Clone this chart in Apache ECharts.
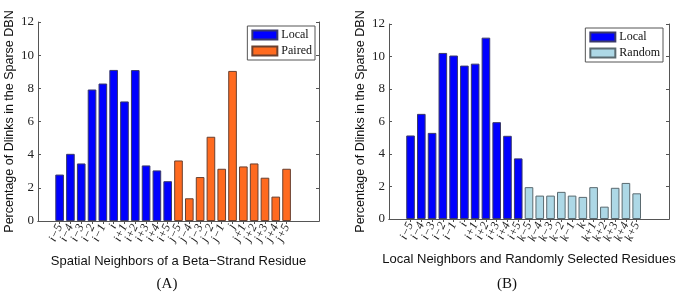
<!DOCTYPE html>
<html>
<head>
<meta charset="utf-8">
<script src="https://cdn.jsdelivr.net/npm/echarts@6/dist/echarts.min.js"></script>
<style>
  html, body { margin: 0; padding: 0; background: #fff; }
  #chart { width: 685px; height: 295px; }
</style>
</head>
<body>
<div id="chart"></div>
<script>
// (A) spatial neighbors
const catsA = ['i−5', 'i−4', 'i−3', 'i−2', 'i−1', 'i', 'i+1', 'i+2', 'i+3', 'i+4', 'i+5',
    'j−5', 'j−4', 'j−3', 'j−2', 'j−1', 'j', 'j+1', 'j+2', 'j+3', 'j+4', 'j+5']
const localA = [2.8, 4.05, 3.47, 7.93, 8.29, 9.11, 7.21, 9.1, 3.35, 3.05, 2.4]
const pairedA = [3.65, 1.37, 2.65, 5.08, 3.15, 9.05, 3.29, 3.47, 2.61, 1.47, 3.15]

// (B) local vs random
const catsB = ['i−5', 'i−4', 'i−3', 'i−2', 'i−1', 'i', 'i+1', 'i+2', 'i+3', 'i+4', 'i+5',
    'k−5', 'k−4', 'k−3', 'k−2', 'k−1', 'k', 'k+1', 'k+2', 'k+3', 'k+4', 'k+5']
const localB = [5.14, 6.47, 5.3, 10.22, 10.06, 9.44, 9.56, 11.16, 5.96, 5.12, 3.73]
const randomB = [1.96, 1.44, 1.44, 1.67, 1.44, 1.36, 1.96, 0.76, 1.92, 2.22, 1.58]

const yTicks = [0, 2, 4, 6, 8, 10, 12]

const axisGray = '#555'
const serif = '"Liberation Serif", "DejaVu Serif", serif'
const sans = '"Liberation Sans", Arial, sans-serif'

// MATLAB-like xlim [-1, 25]: two empty slots before, three after
const PAD_L = 2
const PAD_R = 3
const pad = (arr) => [...Array(PAD_L).fill(null), ...arr, ...Array(PAD_R).fill(null)]
const padCats = (arr) => [...Array(PAD_L).fill(''), ...arr, ...Array(PAD_R).fill('')]
const realTick = (index) => index >= PAD_L && index < PAD_L + catsA.length

const grids = [
    { left: 38, top: 22, width: 281, height: 199 },
    { left: 389, top: 24, width: 280, height: 195 },
]

function xAxes(gi, cats, name) {
    return [
        {
            type: 'category',
            gridIndex: gi,
            data: padCats(cats),
            boundaryGap: false,
            name: name,
            nameLocation: 'middle',
            nameGap: 34,
            nameTextStyle: { fontFamily: sans, fontSize: 13, color: '#111' },
            axisLine: { lineStyle: { color: axisGray } },
            axisTick: { show: true, inside: true, length: 3, interval: realTick, lineStyle: { color: axisGray } },
            axisLabel: {
                interval: 0,
                rotate: 65,
                margin: 4,
                fontFamily: serif,
                fontStyle: 'italic',
                fontSize: 12,
                color: '#222',
            },
            splitLine: { show: false },
        },
        {
            type: 'category',
            gridIndex: gi,
            position: 'top',
            data: padCats(cats),
            boundaryGap: false,
            axisLine: { lineStyle: { color: axisGray } },
            axisTick: { show: true, inside: true, length: 3, interval: realTick, lineStyle: { color: axisGray } },
            axisLabel: { show: false },
            splitLine: { show: false },
        },
    ]
}

function yAxes(gi) {
    const base = {
        type: 'value',
        gridIndex: gi,
        min: yTicks[0],
        max: yTicks[yTicks.length - 1],
        interval: 2,
        axisLine: { show: true, lineStyle: { color: axisGray } },
        axisTick: { show: true, inside: true, length: 3, lineStyle: { color: axisGray } },
        splitLine: { show: false },
    }
    return [
        {
            ...base,
            name: 'Percentage of Dlinks in the Sparse DBN',
            nameLocation: 'middle',
            nameGap: 22,
            nameTextStyle: { fontFamily: sans, fontSize: 12.5, color: '#111' },
            axisLabel: { fontFamily: serif, fontSize: 13, color: '#222', margin: 4 },
        },
        { ...base, position: 'right', axisLabel: { show: false } },
    ]
}

function barSeries(id, name, xi, yi, data, color, border) {
    return {
        id: id,
        name: name,
        type: 'bar',
        xAxisIndex: xi,
        yAxisIndex: yi,
        data: data,
        barWidth: '80%',
        barGap: '-100%',
        itemStyle: { color: color, borderColor: border, borderWidth: 1 },
        emphasis: { disabled: true },
    }
}

const legendBase = {
    orient: 'vertical',
    icon: 'rect',
    itemWidth: 25,
    itemHeight: 9,
    itemGap: 4,
    padding: [3, 3, 3, 4],
    borderColor: axisGray,
    borderWidth: 1,
    backgroundColor: '#fff',
    textStyle: { fontFamily: serif, fontSize: 12, color: '#111', padding: [0, 0, 0, -1] },
}

const option = {
    animation: false,
    grid: grids,
    xAxis: [
        ...xAxes(0, catsA, 'Spatial Neighbors of a Beta−Strand Residue'),
        ...xAxes(1, catsB, 'Local Neighbors and Randomly Selected Residues'),
    ],
    yAxis: [...yAxes(0), ...yAxes(1)],
    legend: [
        { ...legendBase, right: 370, top: 26, data: ['Local', 'Paired'] },
        { ...legendBase, right: 22, top: 28, data: ['Local', 'Random'] },
    ],
    series: [
        barSeries('localA', 'Local', 0, 0, pad([...localA, ...Array(pairedA.length).fill(null)]), '#0000ff', '#3a3a6a'),
        barSeries('pairedA', 'Paired', 0, 0, pad([...Array(localA.length).fill(null), ...pairedA]), '#ff6a1f', '#6a4030'),
        barSeries('localB', 'Local', 2, 2, pad([...localB, ...Array(randomB.length).fill(null)]), '#0000ff', '#3a3a6a'),
        barSeries('randomB', 'Random', 2, 2, pad([...Array(localB.length).fill(null), ...randomB]), '#add8e6', '#5a6a70'),
    ],
    graphic: [
        { type: 'text', x: 167, y: 284, style: { text: '(A)', font: '15px ' + serif, fill: '#111', textAlign: 'center', textVerticalAlign: 'middle' } },
        { type: 'text', x: 507, y: 284, style: { text: '(B)', font: '15px ' + serif, fill: '#111', textAlign: 'center', textVerticalAlign: 'middle' } },
    ],
}

const myChart = echarts.init(document.getElementById('chart'), null, { renderer: 'canvas' })
myChart.setOption(option)
</script>
</body>
</html>
